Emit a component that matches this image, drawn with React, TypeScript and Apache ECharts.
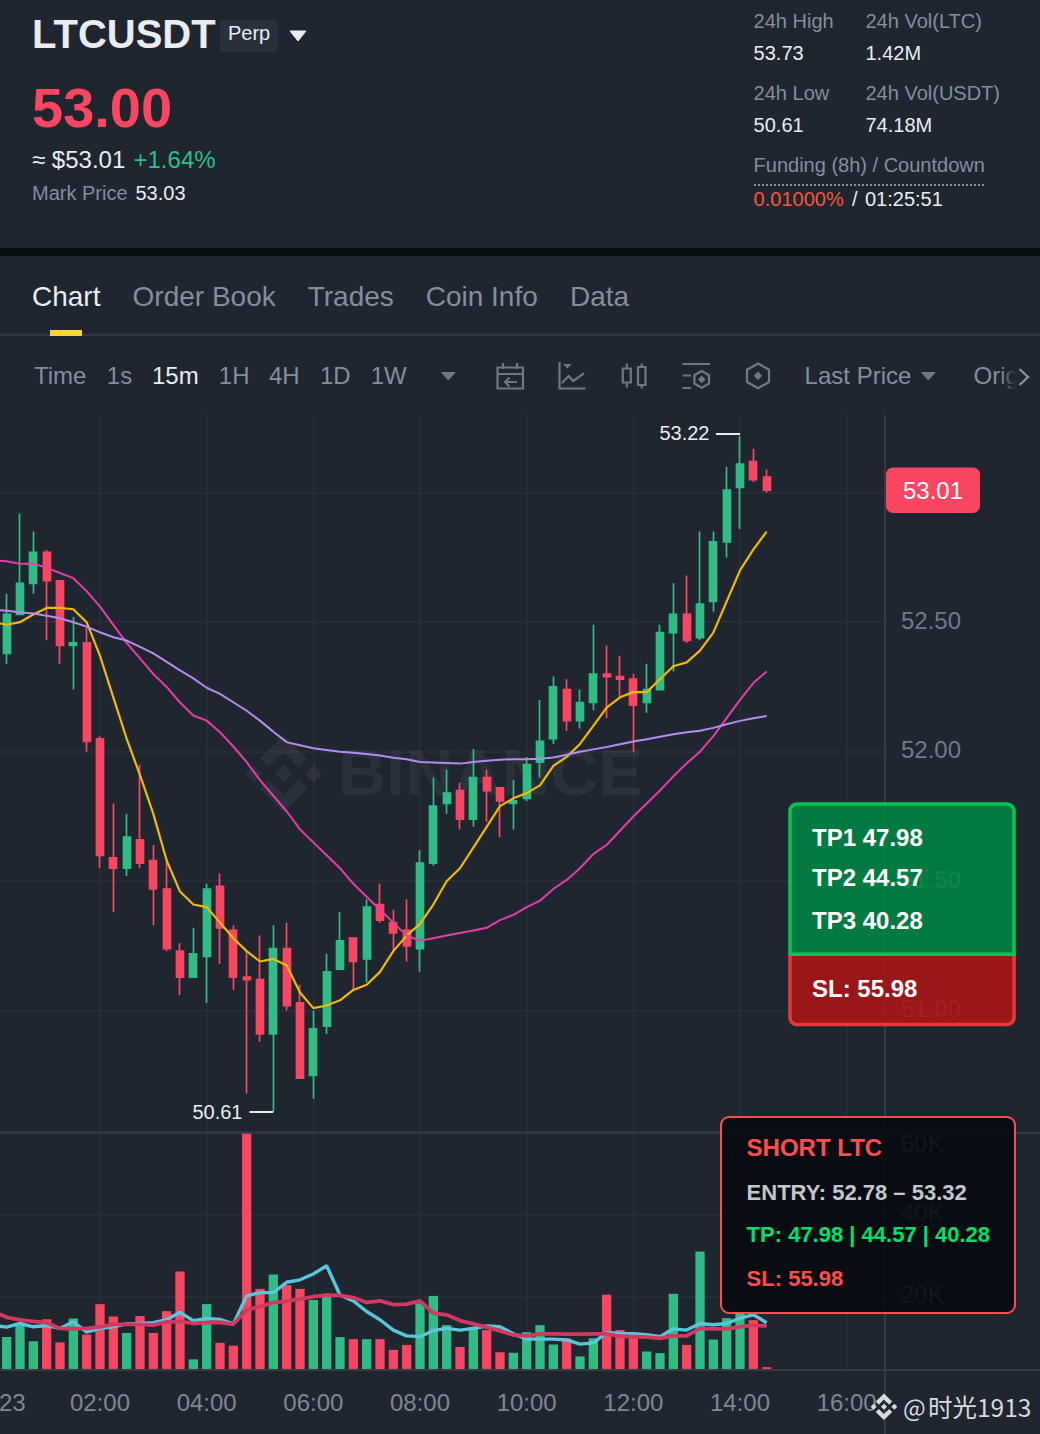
import React, { useEffect, useRef } from "react";
import * as echarts from "echarts";

const FONT = '"Liberation Sans", Arial, sans-serif';
const BG = "#1F2630";
const UP = "#2EBD85";
const DOWN = "#FA4661";
const GRAY = "#848E9C";
const WHITE = "#EAECEF";
const GRID = "#272D37";
const LINE = "#343B46";

// index 0 sits just off the left edge of the picture
const opens = [null, 52.38, 52.53, 52.65, 52.77, 52.66, 52.41, 52.42, 52.05, 51.59, 51.55, 51.66, 51.58, 51.47, 51.23, 51.13, 51.21, 51.48, 51.31, 51.13, 51.12, 50.91, 51.24, 51.03, 50.75, 50.94, 51.16, 51.28, 51.2, 51.41, 51.34, 51.31, 51.24, 51.57, 51.8, 51.85, 51.74, 51.9, 51.86, 51.8, 51.82, 51.96, 52.05, 52.24, 52.12, 52.19, 52.3, 52.29, 52.28, 52.19, 52.24, 52.46, 52.53, 52.44, 52.58, 52.81, 53.02, 53.12, 53.06];
const closes = [null, 52.53, 52.65, 52.77, 52.66, 52.41, 52.42, 52.04, 51.6, 51.55, 51.67, 51.57, 51.47, 51.24, 51.13, 51.22, 51.47, 51.32, 51.13, 51.12, 50.91, 51.24, 51.02, 50.74, 50.93, 51.15, 51.27, 51.19, 51.4, 51.35, 51.3, 51.25, 51.57, 51.79, 51.84, 51.74, 51.9, 51.85, 51.81, 51.81, 51.95, 52.04, 52.25, 52.12, 52.19, 52.3, 52.29, 52.28, 52.18, 52.24, 52.46, 52.53, 52.43, 52.57, 52.81, 53.01, 53.11, 53.05, 53.01];
const lows = [null, 52.34, 52.53, 52.61, 52.43, 52.34, 52.24, 52.0, 51.55, 51.38, 51.52, 51.55, 51.33, 51.23, 51.06, 51.13, 51.03, 51.18, 51.08, 50.68, 50.88, 50.61, 51.0, 50.74, 50.66, 50.91, 51.16, 51.08, 51.11, 51.34, 51.23, 51.19, 51.15, 51.56, 51.76, 51.7, 51.71, 51.73, 51.67, 51.7, 51.81, 51.9, 52.03, 52.08, 52.09, 52.16, 52.13, 52.21, 52.0, 52.15, 52.24, 52.31, 52.42, 52.43, 52.54, 52.75, 52.86, 53.04, 53.0];
const highs = [null, 52.61, 52.92, 52.85, 52.78, 52.66, 52.52, 52.48, 52.06, 51.8, 51.76, 51.95, 51.64, 51.59, 51.26, 51.32, 51.49, 51.53, 51.33, 51.23, 51.29, 51.33, 51.34, 51.1, 51.0, 51.22, 51.38, 51.28, 51.43, 51.49, 51.39, 51.43, 51.62, 51.9, 51.93, 51.88, 52.01, 51.93, 51.86, 51.89, 51.98, 52.2, 52.29, 52.28, 52.24, 52.49, 52.41, 52.37, 52.3, 52.34, 52.49, 52.65, 52.68, 52.85, 52.85, 53.1, 53.22, 53.17, 53.09];

const maFast = [52.5, 52.49, 52.5, 52.53, 52.555, 52.555, 52.55, 52.5, 52.37, 52.21, 52.05, 51.91, 51.76, 51.58, 51.46, 51.41, 51.4, 51.34, 51.28, 51.23, 51.19, 51.2, 51.175, 51.07, 51.01, 51.02, 51.04, 51.08, 51.1, 51.15, 51.23, 51.29, 51.335, 51.41, 51.5, 51.55, 51.63, 51.71, 51.79, 51.82, 51.84, 51.87, 51.945, 51.98, 52.03, 52.1, 52.17, 52.21, 52.23, 52.23, 52.28, 52.33, 52.345, 52.39, 52.46, 52.58, 52.7, 52.78, 52.85];
const maMid = [52.74, 52.735, 52.726, 52.726, 52.71, 52.69, 52.67, 52.62, 52.56, 52.49, 52.42, 52.36, 52.3, 52.25, 52.19, 52.14, 52.12, 52.075, 52.02, 51.96, 51.89, 51.83, 51.77, 51.7, 51.65, 51.6, 51.55, 51.49, 51.44, 51.39, 51.34, 51.29, 51.27, 51.28, 51.29, 51.3, 51.31, 51.32, 51.35, 51.37, 51.4, 51.425, 51.47, 51.505, 51.55, 51.605, 51.64, 51.695, 51.75, 51.8, 51.85, 51.905, 51.955, 52.0, 52.06, 52.13, 52.2, 52.265, 52.31];
const maSlow = [52.548, 52.544, 52.538, 52.534, 52.525, 52.515, 52.5, 52.483, 52.461, 52.442, 52.429, 52.405, 52.38, 52.347, 52.314, 52.283, 52.247, 52.223, 52.191, 52.158, 52.12, 52.077, 52.037, 52.025, 52.013, 52.007, 52.0, 51.996, 51.991, 51.985, 51.977, 51.971, 51.96, 51.958, 51.956, 51.954, 51.96, 51.965, 51.969, 51.971, 51.971, 51.973, 51.978, 51.988, 52.0, 52.009, 52.018, 52.029, 52.039, 52.048, 52.058, 52.067, 52.075, 52.081, 52.092, 52.106, 52.119, 52.129, 52.138];

const volumes = [null, 10.2, 13.5, 9.2, 14.5, 8.9, 14.7, 10.8, 18.2, 15.2, 11.2, 15.3, 11.2, 16.5, 26.1, 4.8, 18.2, 8.8, 8.1, 60, 21.9, 25.4, 22.8, 21.9, 19.2, 20.7, 10.2, 9.7, 9.7, 9.7, 7.1, 8.3, 18.4, 20.2, 13.1, 7.8, 12.7, 11.9, 6.5, 6.4, 11.4, 13.1, 8.4, 9.9, 5.5, 9.9, 20.5, 11.9, 11.1, 6.7, 6.3, 20.7, 8.3, 31.0, 9.6, 14.8, 16.0, 14.3, 2.9];
const volFast = [13.1, 12.6, 13.5, 12.7, 13.0, 12.3, 13.9, 11.4, 12.3, 12.7, 13.4, 13.5, 13.7, 14.4, 16.2, 14.2, 14.7, 14.5, 13.4, 20.2, 21.0, 21.0, 23.5, 24.1, 25.5, 27.5, 20.4, 19.0, 16.4, 14.4, 11.9, 10.5, 10.3, 11.8, 12.3, 11.9, 12.3, 12.9, 12.7, 11.0, 9.7, 9.7, 9.7, 9.5, 8.5, 8.8, 11.3, 11.1, 11.0, 10.8, 10.3, 12.2, 11.9, 13.5, 13.2, 13.5, 14.8, 15.6, 13.7];
const volSlow = [16.4, 15.0, 14.4, 14.0, 13.7, 12.3, 12.2, 12.3, 12.7, 13.3, 13.3, 13.3, 13.1, 13.9, 14.0, 13.5, 13.7, 13.8, 13.3, 16.8, 17.6, 18.6, 18.9, 19.4, 20.0, 20.4, 20.3, 19.8, 18.6, 19.0, 18.1, 18.2, 19.0, 16.0, 15.6, 14.2, 13.4, 12.6, 11.7, 10.7, 10.5, 11.0, 11.0, 10.9, 10.9, 11.0, 11.0, 10.4, 10.3, 10.2, 9.9, 10.5, 10.5, 12.3, 12.2, 12.2, 12.7, 13.1, 12.9];

const xTickLabels = ["23", "02:00", "04:00", "06:00", "08:00", "10:00", "12:00", "14:00", "16:00"];
const priceTicks = [51, 51.5, 52, 52.5, 53];
const volumeTicks = [20000, 40000, 60000];

const CATEGORY_COUNT = 79;
const categories = Array.from({ length: CATEGORY_COUNT }, (_, i) => (i % 8 === 0 && xTickLabels[i / 8]) || `t${i}`);

echarts.graphic.registerShape("bnbLogo", echarts.graphic.extendPath(
  "M38.73,53.2,63.3,28.63,87.88,53.2l14.3-14.3L63.3,0,24.43,38.9Z M0,63.31l14.3-14.3,14.3,14.3-14.3,14.3Z M38.73,73.41,63.3,98l24.58-24.58,14.3,14.3h0L63.3,126.61,24.43,87.72l0,0Z M98,63.31l14.3-14.3,14.3,14.3-14.3,14.3Z M77.81,63.3h0L63.3,48.78,52.58,59.5h0l-1.23,1.24-2.54,2.54h0l0,0,14.5,14.49L77.81,63.3Z", {}));
echarts.graphic.registerShape("icCalendar", echarts.graphic.extendPath(
  "M497.5 367.5h25.5v21h-25.5z M497.5 374h25.5 M503 363v6 M517 363v6 M517 382h-12 M509.5 377.5l-4.5 4.5l4.5 4.5", {}));
echarts.graphic.registerShape("icLine", echarts.graphic.extendPath(
  "M559.5 362v26.5h26 M561.7 383.3L568.7 376L573.3 381L584 373.3", {}));
echarts.graphic.registerShape("icCandle", echarts.graphic.extendPath(
  "M622.8 368.5h8v14h-8z M626.8 363.5v5 M626.8 382.5v5 M638 367h7.5v18h-7.5z M641.7 363.5v3.5 M641.7 385v3.5", {}));
echarts.graphic.registerShape("icSetting", echarts.graphic.extendPath(
  "M682.5 364H710 M682.5 375.5H691 M682.5 388H691 M701.7 371L709 375.2V383.6L701.7 387.8L694.4 383.6V375.2Z", {}));
echarts.graphic.registerShape("icHex", echarts.graphic.extendPath(
  "M758 363.5L769 369.7V382L758 388.2L747 382V369.7Z", {}));

function txt(x: number, y: number, text: string, size: number, fill: string, opts: any = {}) {
  return {
    type: "text",
    z: opts.z ?? 20,
    style: {
      x, y: y - 1, text, fill,
      fontSize: size,
      fontFamily: opts.family ?? FONT,
      fontWeight: opts.weight ?? "normal",
      align: opts.align ?? "left",
      verticalAlign: "middle",
      ...(opts.style ?? {}),
    },
    ...(opts.el ?? {}),
  };
}
function hline(x1: number, x2: number, y: number, stroke: string, w = 2, extra: any = {}) {
  return { type: "line", z: extra.z ?? 5, shape: { x1, y1: y, x2, y2: y }, style: { stroke, lineWidth: w, ...(extra.style ?? {}) } };
}
function tri(x1: number, x2: number, y1: number, y2: number, fill: string) {
  return { type: "polygon", z: 20, shape: { points: [[x1, y1], [x2, y1], [(x1 + x2) / 2, y2]] }, style: { fill, lineJoin: "round", stroke: fill, lineWidth: 1 } };
}
function icon(type: string) {
  return { type, z: 20, style: { stroke: "#6E7785", lineWidth: 2.2, fill: "none" } };
}
const PANEL_Z = 50;
function panelText(x: number, y: number, text: string, size: number, fill: string) {
  return txt(x, y, text, size, fill, { weight: "bold", z: PANEL_Z + 2 });
}

const graphicElements: any[] = [
  // header
  txt(32, 35, "LTCUSDT", 40, WHITE, { weight: "bold" }),
  { type: "rect", z: 10, shape: { x: 220, y: 20, width: 58, height: 32, r: 4 }, style: { fill: "#2A303B" } },
  txt(228, 33.5, "Perp", 20, WHITE),
  tri(290, 306, 31, 41, WHITE),
  txt(32, 108, "53.00", 56, DOWN, { weight: "bold" }),
  txt(32, 160, "≈ $53.01", 24, WHITE),
  txt(133.5, 160, "+1.64%", 24, UP),
  txt(32, 194, "Mark Price", 20, GRAY),
  txt(135.5, 194, "53.03", 20, WHITE),
  txt(753.6, 21.5, "24h High", 20, GRAY),
  txt(865.5, 21.5, "24h Vol(LTC)", 20, GRAY),
  txt(753.6, 53.5, "53.73", 20, WHITE),
  txt(865.5, 53.5, "1.42M", 20, WHITE),
  txt(753.6, 93.5, "24h Low", 20, GRAY),
  txt(865.5, 93.5, "24h Vol(USDT)", 20, GRAY),
  txt(753.6, 125.5, "50.61", 20, WHITE),
  txt(865.5, 125.5, "74.18M", 20, WHITE),
  txt(753.6, 165.5, "Funding (8h) / Countdown", 20, GRAY),
  hline(754, 984, 185, GRAY, 2, { style: { lineDash: [2, 2] } }),
  txt(753.6, 199.5, "0.01000%", 20, "#F6553A"),
  txt(852, 199.5, "/", 20, WHITE),
  txt(865, 199.5, "01:25:51", 20, WHITE),
  { type: "rect", z: 10, shape: { x: 0, y: 248, width: 1040, height: 8 }, style: { fill: "#0B0E11" } },
  // tabs
  txt(32, 297, "Chart", 28, WHITE),
  txt(132.6, 297, "Order Book", 28, GRAY),
  txt(307.7, 297, "Trades", 28, GRAY),
  txt(425.7, 297, "Coin Info", 28, GRAY),
  txt(570, 297, "Data", 28, GRAY),
  hline(0, 1040, 334.7, LINE),
  { type: "rect", z: 10, shape: { x: 50, y: 330, width: 32, height: 6 }, style: { fill: "#FCD535" } },
  // toolbar
  txt(34, 376, "Time", 24, GRAY),
  txt(106.8, 376, "1s", 24, GRAY),
  txt(152, 376, "15m", 24, WHITE),
  txt(218.8, 376, "1H", 24, GRAY),
  txt(269, 376, "4H", 24, GRAY),
  txt(320, 376, "1D", 24, GRAY),
  txt(370.7, 376, "1W", 24, GRAY),
  tri(441.5, 455, 372.5, 380, "#6E7785"),
  icon("icCalendar"),
  icon("icLine"),
  { type: "polygon", z: 20, shape: { points: [[563, 364], [571.7, 364], [567.3, 368.5]] }, style: { fill: "#6E7785" } },
  icon("icCandle"),
  icon("icSetting"),
  { type: "polygon", z: 20, shape: { points: [[701.7, 375.5], [705.5, 379.4], [701.7, 383.3], [697.9, 379.4]] }, style: { fill: "#6E7785" } },
  icon("icHex"),
  { type: "polygon", z: 20, shape: { points: [[758, 371.5], [762.2, 375.8], [758, 380.1], [753.8, 375.8]] }, style: { fill: "#6E7785" } },
  txt(804.6, 376, "Last Price", 24, GRAY),
  tri(921.5, 935, 372.5, 380, "#6E7785"),
  txt(973.5, 376, "Orig", 24, GRAY),
  {
    type: "rect", z: 21, shape: { x: 1000, y: 360, width: 40, height: 34 },
    style: { fill: { type: "linear", x: 0, y: 0, x2: 1, y2: 0, colorStops: [{ offset: 0, color: "rgba(31,38,48,0)" }, { offset: 0.42, color: "rgba(31,38,48,1)" }, { offset: 1, color: "rgba(31,38,48,1)" }] } },
  },
  { type: "polyline", z: 22, shape: { points: [[1019.5, 369], [1028, 377], [1019.5, 385]] }, style: { stroke: "#848E9C", lineWidth: 2.4, fill: "none" } },
  // frame of the chart
  {
    type: "line", z: 5, shape: { x1: 0, y1: 415, x2: 1012, y2: 415 },
    style: { lineWidth: 2, stroke: { type: "linear", x: 0, y: 0, x2: 1, y2: 0, colorStops: [{ offset: 0, color: LINE }, { offset: 0.93, color: LINE }, { offset: 1, color: "rgba(52,59,70,0)" }] } },
  },
  hline(0, 1040, 1132.8, LINE),
  hline(0, 1040, 1370, LINE),
  { type: "line", z: 5, shape: { x1: 885, y1: 415, x2: 885, y2: 1434 }, style: { stroke: LINE, lineWidth: 2 } },
  // watermark
  { type: "bnbLogo", z: 1, x: 245, y: 735, scaleX: 0.61, scaleY: 0.61, style: { fill: "rgba(255,255,255,0.05)" } },
  txt(338, 773.5, "BINANCE", 65, "rgba(255,255,255,0.05)", { weight: "bold", z: 1, el: { scaleX: 1.03, originX: 338, originY: 773.5 } }),
  // extremes
  txt(709.5, 433.5, "53.22", 20, WHITE, { align: "right" }),
  hline(716, 740, 434, WHITE),
  txt(242.5, 1112.5, "50.61", 20, WHITE, { align: "right" }),
  hline(249.5, 273.3, 1112, WHITE),
  // last price
  { type: "rect", z: 30, shape: { x: 886, y: 467.5, width: 94, height: 45.5, r: 7 }, style: { fill: DOWN } },
  txt(933, 491, "53.01", 24, "#FFFFFF", { align: "center", z: 31 }),
  txt(-1, 1403, xTickLabels[0], 24, "#7F8793"),
  // TP/SL card
  { type: "rect", z: PANEL_Z, shape: { x: 790, y: 953.5, width: 224, height: 71, r: [0, 0, 7, 7] }, style: { fill: "rgba(170,20,21,0.89)", stroke: "#E53935", lineWidth: 3.6 } },
  { type: "rect", z: PANEL_Z + 1, shape: { x: 790, y: 804, width: 224, height: 150.2, r: [7, 7, 0, 0] }, style: { fill: "rgba(1,132,70,0.89)", stroke: "#04C552", lineWidth: 3.6 } },
  panelText(812, 838.5, "TP1 47.98", 24, "#FFFFFF"),
  panelText(812, 878, "TP2 44.57", 24, "#FFFFFF"),
  panelText(812, 921, "TP3 40.28", 24, "#FFFFFF"),
  panelText(812, 989, "SL: 55.98", 24, "#FFFFFF"),
  // signal card
  { type: "rect", z: PANEL_Z, shape: { x: 721, y: 1117, width: 294, height: 196, r: 8 }, style: { fill: "rgba(7,10,16,0.89)", stroke: "#FF4D4D", lineWidth: 2 } },
  panelText(746.6, 1148, "SHORT LTC", 24, "#FF4D4D"),
  panelText(746.6, 1193, "ENTRY: 52.78 – 53.32", 22, "#C3C6CB"),
  panelText(746.6, 1235, "TP: 47.98 | 44.57 | 40.28", 22, "#00E06B"),
  panelText(746.6, 1279, "SL: 55.98", 22, "#FF4D4D"),
  // author mark
  { type: "bnbLogo", z: 40, x: 870.6, y: 1393.4, scaleX: 0.211, scaleY: 0.211, style: { fill: "#D8DADE" } },
  txt(903, 1407, "@", 24, "#D8DADE", { family: '"Noto Sans CJK SC", sans-serif', z: 40 }),
  txt(928, 1407, "时光1913", 24.5, "#D8DADE", { family: '"Noto Sans CJK SC", sans-serif', z: 40 }),
];

// The chart canvas starts 14px left of the page, so that the off-page candle can feed the lines.
const SHIFT = 14;
const PRICE_TOP = 415, PRICE_H = 717, PRICE_MIN = 50.5317, PRICE_MAX = 53.3;
const VOL_TOP = 1131.9, VOL_H = 237.4, VOL_MIN = 2380, VOL_MAX = 60000;
const LEFT = SHIFT - 13.333, WIDTH = 1053.333;
const LINES_LEFT = SHIFT - 6.667, LINES_WIDTH = 891.667, LINES_XMAX = 66.875;

const axisLabelRight = {
  inside: true,
  margin: 139,
  align: "left",
  color: "#707A8A",
  fontSize: 24,
  fontFamily: FONT,
  rich: { a: { color: "#707A8A", fontSize: 24, fontFamily: FONT, padding: [0, 0, 4, 0] } },
};

function buildOption(): any {
  const kline = opens.map((o, i) => (o === null ? "-" : [o, closes[i], lows[i], highs[i]]));
  const volBars = volumes.map((v, i) => (v === null ? "-" : {
    value: v * 1000,
    itemStyle: { color: (closes[i] as number) >= (opens[i] as number) ? UP : DOWN },
  }));
  const gridAxisLines = { lineStyle: { color: GRID, width: 2 } };
  return {
    animation: false,
    backgroundColor: BG,
    grid: [
      { left: LEFT, width: WIDTH, top: PRICE_TOP, height: PRICE_H },
      { left: LEFT, width: WIDTH, top: VOL_TOP, height: VOL_H },
      { left: LINES_LEFT, width: LINES_WIDTH, top: PRICE_TOP, height: PRICE_H },
      { left: LINES_LEFT, width: LINES_WIDTH, top: VOL_TOP, height: VOL_H },
    ],
    xAxis: [
      { type: "category", gridIndex: 0, data: categories, show: false },
      {
        type: "category", gridIndex: 1, data: categories,
        axisLine: { show: false }, axisTick: { show: false }, splitLine: { show: false },
        axisLabel: {
          interval: (i: number) => i > 0 && i % 8 === 0 && i / 8 < xTickLabels.length,
          margin: 21, color: "#7F8793", fontSize: 24, fontFamily: FONT, hideOverlap: false,
        },
      },
      ...[2, 3].map((gridIndex) => ({
        type: "value", gridIndex, min: 0, max: LINES_XMAX, interval: 8,
        axisLine: { show: false }, axisTick: { show: false }, axisLabel: { show: false },
        splitLine: { show: true, showMaxLine: false, ...gridAxisLines },
      })),
    ],
    yAxis: [
      {
        type: "value", gridIndex: 0, position: "right", min: PRICE_MIN, max: PRICE_MAX,
        axisLine: { show: false }, splitLine: { show: false },
        axisTick: { show: false, customValues: priceTicks },
        axisLabel: { ...axisLabelRight, customValues: priceTicks, formatter: (v: number) => `{a|${v.toFixed(2)}}` },
      },
      {
        type: "value", gridIndex: 1, position: "right", min: VOL_MIN, max: VOL_MAX,
        axisLine: { show: false }, splitLine: { show: false },
        axisTick: { show: false, customValues: volumeTicks },
        axisLabel: { ...axisLabelRight, customValues: volumeTicks, verticalAlignMaxLabel: "top", formatter: (v: number) => `{a|${v / 1000}K}` },
      },
      {
        type: "value", gridIndex: 2, min: PRICE_MIN, max: PRICE_MAX,
        axisLine: { show: false }, axisLabel: { show: false },
        axisTick: { show: false, customValues: priceTicks },
        splitLine: { show: true, ...gridAxisLines },
      },
      {
        type: "value", gridIndex: 3, min: VOL_MIN, max: VOL_MAX,
        axisLine: { show: false }, axisLabel: { show: false },
        axisTick: { show: false, customValues: volumeTicks },
        splitLine: { show: true, ...gridAxisLines },
      },
    ],
    graphic: { elements: [{ type: "group", x: SHIFT, y: 0, children: graphicElements }] },
    series: [
      {
        type: "candlestick", xAxisIndex: 0, yAxisIndex: 0, data: kline, barWidth: 7.7, z: 2,
        itemStyle: { color: UP, color0: DOWN, borderColor: UP, borderColor0: DOWN, borderWidth: 1.7 },
      },
      { type: "line", xAxisIndex: 0, yAxisIndex: 0, data: maFast, z: 3, symbol: "none", lineStyle: { color: "#F0B90B", width: 2.2 } },
      { type: "line", xAxisIndex: 0, yAxisIndex: 0, data: maMid, z: 3, symbol: "none", lineStyle: { color: "#E23DA8", width: 2 } },
      { type: "line", xAxisIndex: 0, yAxisIndex: 0, data: maSlow, z: 3, symbol: "none", lineStyle: { color: "#B58BF2", width: 2 } },
      { type: "bar", xAxisIndex: 1, yAxisIndex: 1, data: volBars, barWidth: 9.3, z: 2 },
      { type: "line", xAxisIndex: 1, yAxisIndex: 1, data: volFast.map((v) => v * 1000), z: 3, symbol: "none", lineStyle: { color: "#5AC6DC", width: 3.4 } },
      { type: "line", xAxisIndex: 1, yAxisIndex: 1, data: volSlow.map((v) => v * 1000), z: 4, symbol: "none", lineStyle: { color: "#D0385F", width: 3.8 } },
    ],
  };
}

export default function App() {
  const ref = useRef<HTMLDivElement>(null);
  useEffect(() => {
    document.body.style.margin = "0";
    document.body.style.background = BG;
    const chart = echarts.init(ref.current as HTMLDivElement, undefined, { renderer: "svg" });
    chart.setOption(buildOption());
    return () => chart.dispose();
  }, []);
  return <div ref={ref} style={{ position: "absolute", left: -SHIFT, top: 0, width: 1040 + SHIFT, height: 1434 }} />;
}
